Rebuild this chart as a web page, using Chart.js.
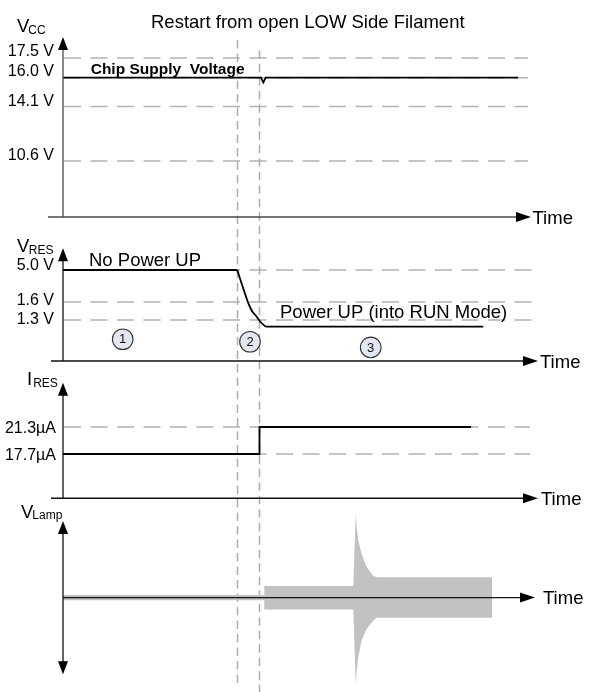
<!DOCTYPE html>
<html>
<head>
<meta charset="utf-8">
<script src="https://cdn.jsdelivr.net/npm/chart.js@4/dist/chart.umd.min.js"></script>
<style>
  html, body { margin: 0; padding: 0; background: #ffffff; }
  #wrap { width: 592px; height: 692px; position: relative; }
</style>
</head>
<body>
<div id="wrap"><canvas id="c" width="592" height="692"></canvas></div>
<script>
// ---------------- data (time in arbitrary units) ----------------
const phaseBounds = [34.9, 39.3];

const vccTime  = [0, 39.6, 40.06, 40.54, 91];
const vccValue = [16.0, 16.0, 15.69, 16.0, 16.0];
const vccTicks = [17.5, 16.0, 14.1, 10.6];

const vresTime  = [0, 34.86, 35.3, 35.94, 37.06, 37.8, 38.74, 39.6, 40.54, 84.06];
const vresValue = [5.0, 5.0, 4.26, 3.23, 1.58, 1.45, 1.355, 1.22, 1.09, 1.09];
const vresTicks = [5.0, 1.6, 1.3];

const iresTime  = [0, 39.3, 39.3, 81.6];
const iresValue = [17.7, 17.7, 21.3, 21.3];
const iresTicks = [21.3, 17.7];

const lampTime  = [0, 40.26, 40.26, 58.06, 58.54, 58.74, 59.06, 59.74, 60.74, 62.06, 62.74, 85.86, 85.86];
const lampUpper = [0.23, 0.23, 1.0, 1.0, 7.28, 6.12, 4.96, 3.80, 2.64, 1.91, 1.77, 1.77, 0];
const lampLower = [-0.23, -0.23, -1.04, -1.04, -7.6, -6.35, -5.19, -3.74, -2.72, -2.0, -1.77, -1.77, 0];

const phaseNames = ['1', '2', '3'];

// ---------------- schematic (piecewise) value scale ----------------
const LinearScale = Chart.registry.getScale('linear');
class LevelScale extends LinearScale {
  getPixelForValue(value) {
    if (value === null || value === undefined || isNaN(value)) return NaN;
    const v = this.options.knotValues, p = this.options.knotPixels;
    let i = 0;
    while (i < v.length - 2 && value > v[i + 1]) i++;
    const f = (value - v[i]) / (v[i + 1] - v[i]);
    return this.top + p[i] + f * (p[i + 1] - p[i]);
  }
  getValueForPixel(pixel) {
    const v = this.options.knotValues, p = this.options.knotPixels;
    const q = pixel - this.top;
    let i = 0;
    while (i < p.length - 2 && q < p[i + 1]) i++;
    const f = (q - p[i]) / (p[i + 1] - p[i]);
    return v[i] + f * (v[i + 1] - v[i]);
  }
}
LevelScale.id = 'level';
LevelScale.defaults = LinearScale.defaults;
Chart.register(LevelScale);

const pts = (xs, ys, a, b) => xs.map((x, i) => ({ x: x, y: ys[i] })).slice(a || 0, b === undefined ? xs.length : b);
const FONT = "'Liberation Sans', Arial, Helvetica, sans-serif";

// ---------------- drawing plugin (axes, guides, labels) ----------------
const diagram = {
  id: 'diagram',
  beforeDatasetsDraw(chart, args, o) {
    const ctx = chart.ctx, xs = chart.scales.x;
    ctx.save();
    ctx.setLineDash([17, 9.5]);
    ctx.strokeStyle = '#b3b3b3';
    ctx.lineWidth = 1.6;
    o.panels.forEach(p => {
      const ys = chart.scales[p.axis];
      const x0 = xs.getPixelForValue(0) + 1, x1 = xs.getPixelForValue(p.guideEnd);
      p.ticks.forEach(v => {
        const py = ys.getPixelForValue(v);
        ctx.beginPath(); ctx.moveTo(x0, py); ctx.lineTo(x1, py); ctx.stroke();
      });
    });
    ctx.setLineDash([8.5, 5]);
    ctx.strokeStyle = '#adadad';
    ctx.lineWidth = 1.5;
    phaseBounds.forEach((t, i) => {
      const px = xs.getPixelForValue(t);
      const y0 = chart.scales.yVcc.getPixelForValue(o.boundTop[i]);
      const y1 = chart.scales.yLamp.getPixelForValue(o.boundBottom[i]);
      ctx.beginPath(); ctx.moveTo(px, y0); ctx.lineTo(px, y1); ctx.stroke();
    });
    ctx.restore();
  },
  afterDatasetsDraw(chart, args, o) {
    const ctx = chart.ctx, xs = chart.scales.x;
    ctx.save();
    ctx.setLineDash([]);
    const ax = xs.getPixelForValue(0);
    const head = (tx, ty, dir) => {
      const L = dir === 'right' ? 15 : 13, h = 5;
      ctx.beginPath();
      if (dir === 'up')    { ctx.moveTo(tx, ty); ctx.lineTo(tx - h, ty + L); ctx.lineTo(tx + h, ty + L); }
      if (dir === 'down')  { ctx.moveTo(tx, ty); ctx.lineTo(tx - h, ty - L); ctx.lineTo(tx + h, ty - L); }
      if (dir === 'right') { ctx.moveTo(tx, ty); ctx.lineTo(tx - L, ty - h); ctx.lineTo(tx - L, ty + h); }
      ctx.closePath(); ctx.fill();
    };
    o.panels.forEach(p => {
      const ys = chart.scales[p.axis];
      const yTop = ys.getPixelForValue(ys.options.max);
      const yBot = ys.getPixelForValue(p.yFrom);
      const yAx  = ys.getPixelForValue(p.xAxisAt);
      const xStart = xs.getPixelForValue(p.xFrom);
      const xTip = xs.getPixelForValue(p.xTip);
      ctx.strokeStyle = p.axisColor;
      ctx.fillStyle = '#000';
      ctx.lineWidth = 1.3;
      ctx.beginPath(); ctx.moveTo(ax, yBot - (p.bothWays ? 12 : 0)); ctx.lineTo(ax, yTop + 12); ctx.stroke();
      head(ax, yTop, 'up');
      if (p.bothWays) head(ax, yBot, 'down');
      ctx.beginPath(); ctx.moveTo(xStart, yAx); ctx.lineTo(xTip - 14, yAx); ctx.stroke();
      head(xTip, yAx, 'right');
      ctx.font = '18.5px ' + FONT;
      ctx.textAlign = 'left'; ctx.textBaseline = 'alphabetic';
      ctx.fillText('Time', xTip + p.timeGap, yAx + 6.5);
      ctx.font = '16px ' + FONT;
      ctx.textAlign = 'right';
      p.ticks.forEach((v, i) => {
        ctx.fillText(p.fmt(v), ax - p.labelGap, ys.getPixelForValue(v) + p.tickDy[i]);
      });
      ctx.textAlign = 'left';
      ctx.font = '18.5px ' + FONT;
      ctx.fillText(p.name, p.nameX, yTop + p.nameDy);
      const w = ctx.measureText(p.name).width;
      ctx.font = '12px ' + FONT;
      ctx.fillText(p.sub, p.nameX + w + p.subGap, yTop + p.nameDy + 1.5);
    });
    ctx.textAlign = 'left';
    ctx.font = '18.5px ' + FONT;
    ctx.fillText('Restart from open LOW Side Filament', 151, 27.7);
    ctx.font = 'bold 15.5px ' + FONT;
    ctx.fillText('Chip Supply  Voltage', 90.7, 74);
    ctx.font = '18.5px ' + FONT;
    ctx.fillText('No Power UP', 89, 266);
    ctx.fillText('Power UP (into RUN Mode)', 280, 318.3);
    const ys = chart.scales.yRes;
    o.phaseAt.forEach((pos, i) => {
      const cx = xs.getPixelForValue(pos[0]), cy = ys.getPixelForValue(pos[1]);
      ctx.beginPath(); ctx.arc(cx, cy, 10.3, 0, Math.PI * 2);
      ctx.fillStyle = '#e3e7f0'; ctx.fill();
      ctx.strokeStyle = '#333'; ctx.lineWidth = 1.1; ctx.stroke();
      ctx.fillStyle = '#111';
      ctx.font = '13px ' + FONT;
      ctx.textAlign = 'center'; ctx.textBaseline = 'middle';
      ctx.fillText(phaseNames[i], cx, cy + 0.5);
    });
    ctx.restore();
  }
};

const lineStyle = { borderColor: '#000', borderWidth: 1.8, pointRadius: 0, fill: false, tension: 0 };

new Chart(document.getElementById('c'), {
  type: 'line',
  data: {
    datasets: [
      Object.assign({ label: 'VCC', data: pts(vccTime, vccValue), yAxisID: 'yVcc' }, lineStyle),
      Object.assign({ label: 'VRES', data: pts(vresTime, vresValue, 0, 2), yAxisID: 'yRes' }, lineStyle),
      Object.assign({ label: 'VRES fall', data: pts(vresTime, vresValue, 1, 9), yAxisID: 'yRes', cubicInterpolationMode: 'monotone' }, lineStyle),
      Object.assign({ label: 'VRES run', data: pts(vresTime, vresValue, 8), yAxisID: 'yRes' }, lineStyle),
      Object.assign({ label: 'IRES', data: pts(iresTime, iresValue), yAxisID: 'yIres' }, lineStyle),
      { label: 'VLamp upper', data: pts(lampTime, lampUpper), yAxisID: 'yLamp', borderWidth: 0, pointRadius: 0,
        backgroundColor: '#c2c2c2', fill: '+1', tension: 0 },
      { label: 'VLamp lower', data: pts(lampTime, lampLower), yAxisID: 'yLamp', borderWidth: 0, pointRadius: 0,
        backgroundColor: '#c2c2c2', fill: false, tension: 0 }
    ]
  },
  options: {
    responsive: false,
    devicePixelRatio: 1,
    animation: false,
    events: [],
    layout: { padding: 0 },
    plugins: {
      legend: { display: false },
      tooltip: { enabled: false },
      diagram: {
        boundTop: [18.87, 18.1],
        boundBottom: [-7.9, -8.3],
        phaseAt: [[11.94, 0.69], [37.4, 0.61], [61.54, 0.43]],
        panels: [
          { axis: 'yVcc', ticks: vccTicks, fmt: v => v.toFixed(1) + ' V', tickDy: [-2, -1.5, -0.5, -1],
            labelGap: 9, guideEnd: 93, xFrom: -3, xTip: 93.6, xAxisAt: 7.0, yFrom: 7.0, timeGap: 1.5,
            name: 'V', sub: 'CC', nameX: 17, nameDy: -5, subGap: -1, axisColor: '#4a4a4a' },
          { axis: 'yRes', ticks: vresTicks, fmt: v => v.toFixed(1) + ' V', tickDy: [0, 3, 4],
            labelGap: 9, guideEnd: 93.8, xFrom: -2.4, xTip: 95, xAxisAt: 0, yFrom: 0, timeGap: 2,
            name: 'V', sub: 'RES', nameX: 17, nameDy: 3.7, subGap: -0.5, axisColor: '#111' },
          { axis: 'yIres', ticks: iresTicks, fmt: v => v.toFixed(1) + 'µA', tickDy: [5.7, 6],
            labelGap: 7, guideEnd: 93.4, xFrom: -2.4, xTip: 95, xAxisAt: 11.8, yFrom: 11.8, timeGap: 3,
            name: 'I', sub: 'RES', nameX: 27, nameDy: 2.3, subGap: 1, axisColor: '#111' },
          { axis: 'yLamp', ticks: [], fmt: v => '', tickDy: [],
            labelGap: 9, guideEnd: 0, xFrom: 0, xTip: 94.4, xAxisAt: 0, yFrom: -6.7, timeGap: 8, bothWays: true,
            name: 'V', sub: 'Lamp', nameX: 21, nameDy: -3, subGap: -1, axisColor: '#111' }
        ]
      }
    },
    scales: {
      x: { type: 'linear', min: -12.6, max: 105.8, display: false },
      yVcc:  { type: 'level', display: false, min: 7.0, max: 19.1,
               knotValues: [7.0, 10.6, 14.1, 16.0, 17.5, 19.1], knotPixels: [217, 161, 106.5, 77.7, 58, 37] },
      yRes:  { type: 'level', display: false, min: 0, max: 6.4,
               knotValues: [0, 1.3, 1.6, 5.0, 6.4], knotPixels: [361, 320, 302, 270, 248.3] },
      yIres: { type: 'level', display: false, min: 11.8, max: 27.2,
               knotValues: [11.8, 17.7, 21.3, 27.2], knotPixels: [498.25, 454, 427, 382.75] },
      yLamp: { type: 'level', display: false, min: -8, max: 6.7,
               knotValues: [-8, 6.7], knotPixels: [689, 520.95] }
    }
  },
  plugins: [diagram]
});
</script>
</body>
</html>
